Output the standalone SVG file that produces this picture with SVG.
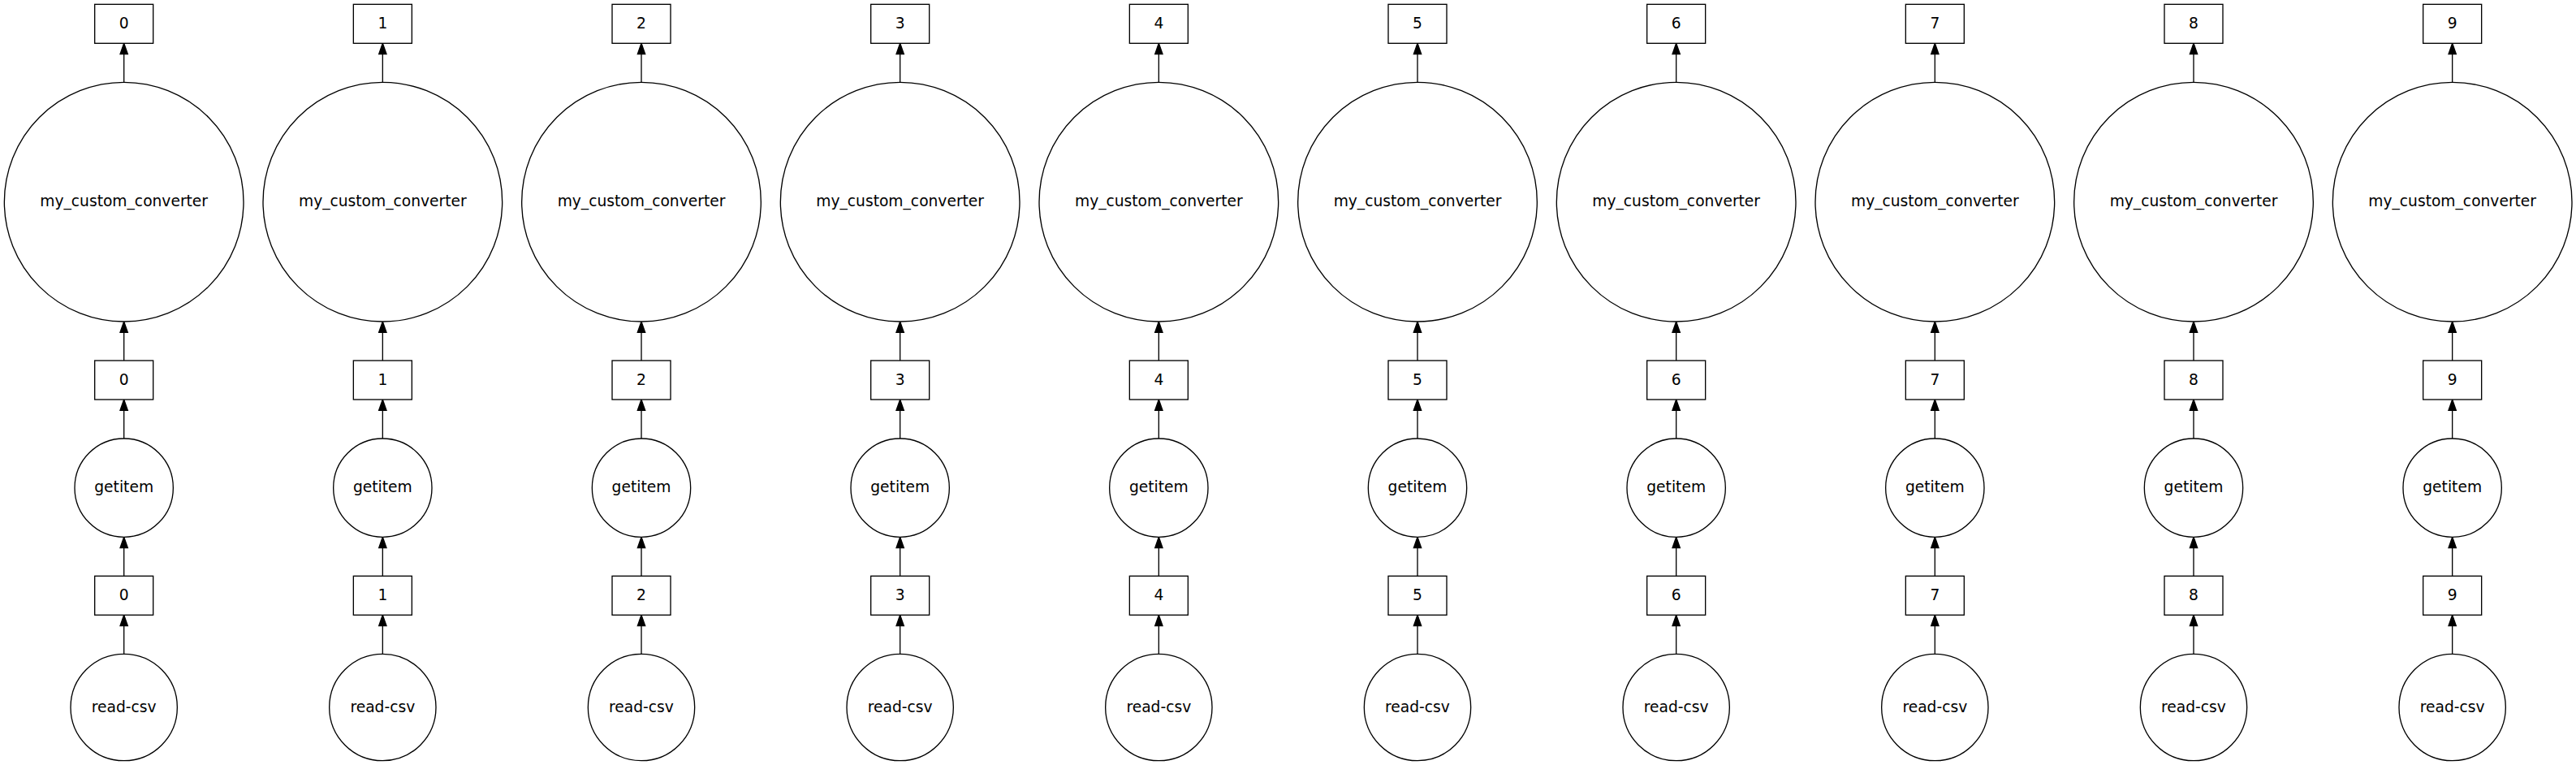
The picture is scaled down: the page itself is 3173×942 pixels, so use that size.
<svg xmlns="http://www.w3.org/2000/svg" width="3173" height="942" viewBox="0 0 3173 942">
<style>
.n{fill:#fff;stroke:#000;stroke-width:1.33}
.t{font-family:"DejaVu Sans",sans-serif;font-size:18.67px;text-anchor:middle;fill:#000}
.e{stroke:#000;stroke-width:1.33;fill:none}
</style>
<defs>
<marker id="ah" markerUnits="userSpaceOnUse" markerWidth="16" markerHeight="12" refX="0" refY="0" orient="auto" overflow="visible">
<path d="M0,-4.67 L13.33,0 L0,4.67 Z" fill="#000" stroke="#000" stroke-width="1.33"/>
</marker>
</defs>
<rect width="3173" height="942" fill="#fff"/>
<g id="connectors">
<line class="e" x1="152.67" y1="805.33" x2="152.67" y2="770.67" marker-end="url(#ah)"/>
<line class="e" x1="152.67" y1="709.33" x2="152.67" y2="674.67" marker-end="url(#ah)"/>
<line class="e" x1="152.67" y1="540" x2="152.67" y2="505.33" marker-end="url(#ah)"/>
<line class="e" x1="152.67" y1="444" x2="152.67" y2="409.33" marker-end="url(#ah)"/>
<line class="e" x1="152.67" y1="101.33" x2="152.67" y2="66.67" marker-end="url(#ah)"/>
<line class="e" x1="471.33" y1="805.33" x2="471.33" y2="770.67" marker-end="url(#ah)"/>
<line class="e" x1="471.33" y1="709.33" x2="471.33" y2="674.67" marker-end="url(#ah)"/>
<line class="e" x1="471.33" y1="540" x2="471.33" y2="505.33" marker-end="url(#ah)"/>
<line class="e" x1="471.33" y1="444" x2="471.33" y2="409.33" marker-end="url(#ah)"/>
<line class="e" x1="471.33" y1="101.33" x2="471.33" y2="66.67" marker-end="url(#ah)"/>
<line class="e" x1="790" y1="805.33" x2="790" y2="770.67" marker-end="url(#ah)"/>
<line class="e" x1="790" y1="709.33" x2="790" y2="674.67" marker-end="url(#ah)"/>
<line class="e" x1="790" y1="540" x2="790" y2="505.33" marker-end="url(#ah)"/>
<line class="e" x1="790" y1="444" x2="790" y2="409.33" marker-end="url(#ah)"/>
<line class="e" x1="790" y1="101.33" x2="790" y2="66.67" marker-end="url(#ah)"/>
<line class="e" x1="1108.67" y1="805.33" x2="1108.67" y2="770.67" marker-end="url(#ah)"/>
<line class="e" x1="1108.67" y1="709.33" x2="1108.67" y2="674.67" marker-end="url(#ah)"/>
<line class="e" x1="1108.67" y1="540" x2="1108.67" y2="505.33" marker-end="url(#ah)"/>
<line class="e" x1="1108.67" y1="444" x2="1108.67" y2="409.33" marker-end="url(#ah)"/>
<line class="e" x1="1108.67" y1="101.33" x2="1108.67" y2="66.67" marker-end="url(#ah)"/>
<line class="e" x1="1427.33" y1="805.33" x2="1427.33" y2="770.67" marker-end="url(#ah)"/>
<line class="e" x1="1427.33" y1="709.33" x2="1427.33" y2="674.67" marker-end="url(#ah)"/>
<line class="e" x1="1427.33" y1="540" x2="1427.33" y2="505.33" marker-end="url(#ah)"/>
<line class="e" x1="1427.33" y1="444" x2="1427.33" y2="409.33" marker-end="url(#ah)"/>
<line class="e" x1="1427.33" y1="101.33" x2="1427.33" y2="66.67" marker-end="url(#ah)"/>
<line class="e" x1="1746" y1="805.33" x2="1746" y2="770.67" marker-end="url(#ah)"/>
<line class="e" x1="1746" y1="709.33" x2="1746" y2="674.67" marker-end="url(#ah)"/>
<line class="e" x1="1746" y1="540" x2="1746" y2="505.33" marker-end="url(#ah)"/>
<line class="e" x1="1746" y1="444" x2="1746" y2="409.33" marker-end="url(#ah)"/>
<line class="e" x1="1746" y1="101.33" x2="1746" y2="66.67" marker-end="url(#ah)"/>
<line class="e" x1="2064.67" y1="805.33" x2="2064.67" y2="770.67" marker-end="url(#ah)"/>
<line class="e" x1="2064.67" y1="709.33" x2="2064.67" y2="674.67" marker-end="url(#ah)"/>
<line class="e" x1="2064.67" y1="540" x2="2064.67" y2="505.33" marker-end="url(#ah)"/>
<line class="e" x1="2064.67" y1="444" x2="2064.67" y2="409.33" marker-end="url(#ah)"/>
<line class="e" x1="2064.67" y1="101.33" x2="2064.67" y2="66.67" marker-end="url(#ah)"/>
<line class="e" x1="2383.33" y1="805.33" x2="2383.33" y2="770.67" marker-end="url(#ah)"/>
<line class="e" x1="2383.33" y1="709.33" x2="2383.33" y2="674.67" marker-end="url(#ah)"/>
<line class="e" x1="2383.33" y1="540" x2="2383.33" y2="505.33" marker-end="url(#ah)"/>
<line class="e" x1="2383.33" y1="444" x2="2383.33" y2="409.33" marker-end="url(#ah)"/>
<line class="e" x1="2383.33" y1="101.33" x2="2383.33" y2="66.67" marker-end="url(#ah)"/>
<line class="e" x1="2702" y1="805.33" x2="2702" y2="770.67" marker-end="url(#ah)"/>
<line class="e" x1="2702" y1="709.33" x2="2702" y2="674.67" marker-end="url(#ah)"/>
<line class="e" x1="2702" y1="540" x2="2702" y2="505.33" marker-end="url(#ah)"/>
<line class="e" x1="2702" y1="444" x2="2702" y2="409.33" marker-end="url(#ah)"/>
<line class="e" x1="2702" y1="101.33" x2="2702" y2="66.67" marker-end="url(#ah)"/>
<line class="e" x1="3020.67" y1="805.33" x2="3020.67" y2="770.67" marker-end="url(#ah)"/>
<line class="e" x1="3020.67" y1="709.33" x2="3020.67" y2="674.67" marker-end="url(#ah)"/>
<line class="e" x1="3020.67" y1="540" x2="3020.67" y2="505.33" marker-end="url(#ah)"/>
<line class="e" x1="3020.67" y1="444" x2="3020.67" y2="409.33" marker-end="url(#ah)"/>
<line class="e" x1="3020.67" y1="101.33" x2="3020.67" y2="66.67" marker-end="url(#ah)"/>
</g>
<g id="nodes">
<g id="out-0"><rect class="n" x="116.67" y="5.33" width="72" height="48"/><text class="t" x="152.67" y="34.5">0</text></g>
<g id="conv-0"><circle class="n" cx="152.67" cy="248.67" r="147.33"/><text class="t" x="152.67" y="254">my_custom_converter</text></g>
<g id="getitem-out-0"><rect class="n" x="116.67" y="444" width="72" height="48"/><text class="t" x="152.67" y="473.5">0</text></g>
<g id="getitem-0"><circle class="n" cx="152.67" cy="600.67" r="60.67"/><text class="t" x="152.67" y="606.3">getitem</text></g>
<g id="csv-out-0"><rect class="n" x="116.67" y="709.33" width="72" height="48"/><text class="t" x="152.67" y="738.8">0</text></g>
<g id="read-csv-0"><circle class="n" cx="152.67" cy="871" r="65.67"/><text class="t" x="152.67" y="876.5">read-csv</text></g>

<g id="out-1"><rect class="n" x="435.33" y="5.33" width="72" height="48"/><text class="t" x="471.33" y="34.5">1</text></g>
<g id="conv-1"><circle class="n" cx="471.33" cy="248.67" r="147.33"/><text class="t" x="471.33" y="254">my_custom_converter</text></g>
<g id="getitem-out-1"><rect class="n" x="435.33" y="444" width="72" height="48"/><text class="t" x="471.33" y="473.5">1</text></g>
<g id="getitem-1"><circle class="n" cx="471.33" cy="600.67" r="60.67"/><text class="t" x="471.33" y="606.3">getitem</text></g>
<g id="csv-out-1"><rect class="n" x="435.33" y="709.33" width="72" height="48"/><text class="t" x="471.33" y="738.8">1</text></g>
<g id="read-csv-1"><circle class="n" cx="471.33" cy="871" r="65.67"/><text class="t" x="471.33" y="876.5">read-csv</text></g>

<g id="out-2"><rect class="n" x="754" y="5.33" width="72" height="48"/><text class="t" x="790" y="34.5">2</text></g>
<g id="conv-2"><circle class="n" cx="790" cy="248.67" r="147.33"/><text class="t" x="790" y="254">my_custom_converter</text></g>
<g id="getitem-out-2"><rect class="n" x="754" y="444" width="72" height="48"/><text class="t" x="790" y="473.5">2</text></g>
<g id="getitem-2"><circle class="n" cx="790" cy="600.67" r="60.67"/><text class="t" x="790" y="606.3">getitem</text></g>
<g id="csv-out-2"><rect class="n" x="754" y="709.33" width="72" height="48"/><text class="t" x="790" y="738.8">2</text></g>
<g id="read-csv-2"><circle class="n" cx="790" cy="871" r="65.67"/><text class="t" x="790" y="876.5">read-csv</text></g>

<g id="out-3"><rect class="n" x="1072.67" y="5.33" width="72" height="48"/><text class="t" x="1108.67" y="34.5">3</text></g>
<g id="conv-3"><circle class="n" cx="1108.67" cy="248.67" r="147.33"/><text class="t" x="1108.67" y="254">my_custom_converter</text></g>
<g id="getitem-out-3"><rect class="n" x="1072.67" y="444" width="72" height="48"/><text class="t" x="1108.67" y="473.5">3</text></g>
<g id="getitem-3"><circle class="n" cx="1108.67" cy="600.67" r="60.67"/><text class="t" x="1108.67" y="606.3">getitem</text></g>
<g id="csv-out-3"><rect class="n" x="1072.67" y="709.33" width="72" height="48"/><text class="t" x="1108.67" y="738.8">3</text></g>
<g id="read-csv-3"><circle class="n" cx="1108.67" cy="871" r="65.67"/><text class="t" x="1108.67" y="876.5">read-csv</text></g>

<g id="out-4"><rect class="n" x="1391.33" y="5.33" width="72" height="48"/><text class="t" x="1427.33" y="34.5">4</text></g>
<g id="conv-4"><circle class="n" cx="1427.33" cy="248.67" r="147.33"/><text class="t" x="1427.33" y="254">my_custom_converter</text></g>
<g id="getitem-out-4"><rect class="n" x="1391.33" y="444" width="72" height="48"/><text class="t" x="1427.33" y="473.5">4</text></g>
<g id="getitem-4"><circle class="n" cx="1427.33" cy="600.67" r="60.67"/><text class="t" x="1427.33" y="606.3">getitem</text></g>
<g id="csv-out-4"><rect class="n" x="1391.33" y="709.33" width="72" height="48"/><text class="t" x="1427.33" y="738.8">4</text></g>
<g id="read-csv-4"><circle class="n" cx="1427.33" cy="871" r="65.67"/><text class="t" x="1427.33" y="876.5">read-csv</text></g>

<g id="out-5"><rect class="n" x="1710" y="5.33" width="72" height="48"/><text class="t" x="1746" y="34.5">5</text></g>
<g id="conv-5"><circle class="n" cx="1746" cy="248.67" r="147.33"/><text class="t" x="1746" y="254">my_custom_converter</text></g>
<g id="getitem-out-5"><rect class="n" x="1710" y="444" width="72" height="48"/><text class="t" x="1746" y="473.5">5</text></g>
<g id="getitem-5"><circle class="n" cx="1746" cy="600.67" r="60.67"/><text class="t" x="1746" y="606.3">getitem</text></g>
<g id="csv-out-5"><rect class="n" x="1710" y="709.33" width="72" height="48"/><text class="t" x="1746" y="738.8">5</text></g>
<g id="read-csv-5"><circle class="n" cx="1746" cy="871" r="65.67"/><text class="t" x="1746" y="876.5">read-csv</text></g>

<g id="out-6"><rect class="n" x="2028.67" y="5.33" width="72" height="48"/><text class="t" x="2064.67" y="34.5">6</text></g>
<g id="conv-6"><circle class="n" cx="2064.67" cy="248.67" r="147.33"/><text class="t" x="2064.67" y="254">my_custom_converter</text></g>
<g id="getitem-out-6"><rect class="n" x="2028.67" y="444" width="72" height="48"/><text class="t" x="2064.67" y="473.5">6</text></g>
<g id="getitem-6"><circle class="n" cx="2064.67" cy="600.67" r="60.67"/><text class="t" x="2064.67" y="606.3">getitem</text></g>
<g id="csv-out-6"><rect class="n" x="2028.67" y="709.33" width="72" height="48"/><text class="t" x="2064.67" y="738.8">6</text></g>
<g id="read-csv-6"><circle class="n" cx="2064.67" cy="871" r="65.67"/><text class="t" x="2064.67" y="876.5">read-csv</text></g>

<g id="out-7"><rect class="n" x="2347.33" y="5.33" width="72" height="48"/><text class="t" x="2383.33" y="34.5">7</text></g>
<g id="conv-7"><circle class="n" cx="2383.33" cy="248.67" r="147.33"/><text class="t" x="2383.33" y="254">my_custom_converter</text></g>
<g id="getitem-out-7"><rect class="n" x="2347.33" y="444" width="72" height="48"/><text class="t" x="2383.33" y="473.5">7</text></g>
<g id="getitem-7"><circle class="n" cx="2383.33" cy="600.67" r="60.67"/><text class="t" x="2383.33" y="606.3">getitem</text></g>
<g id="csv-out-7"><rect class="n" x="2347.33" y="709.33" width="72" height="48"/><text class="t" x="2383.33" y="738.8">7</text></g>
<g id="read-csv-7"><circle class="n" cx="2383.33" cy="871" r="65.67"/><text class="t" x="2383.33" y="876.5">read-csv</text></g>

<g id="out-8"><rect class="n" x="2666" y="5.33" width="72" height="48"/><text class="t" x="2702" y="34.5">8</text></g>
<g id="conv-8"><circle class="n" cx="2702" cy="248.67" r="147.33"/><text class="t" x="2702" y="254">my_custom_converter</text></g>
<g id="getitem-out-8"><rect class="n" x="2666" y="444" width="72" height="48"/><text class="t" x="2702" y="473.5">8</text></g>
<g id="getitem-8"><circle class="n" cx="2702" cy="600.67" r="60.67"/><text class="t" x="2702" y="606.3">getitem</text></g>
<g id="csv-out-8"><rect class="n" x="2666" y="709.33" width="72" height="48"/><text class="t" x="2702" y="738.8">8</text></g>
<g id="read-csv-8"><circle class="n" cx="2702" cy="871" r="65.67"/><text class="t" x="2702" y="876.5">read-csv</text></g>

<g id="out-9"><rect class="n" x="2984.67" y="5.33" width="72" height="48"/><text class="t" x="3020.67" y="34.5">9</text></g>
<g id="conv-9"><circle class="n" cx="3020.67" cy="248.67" r="147.33"/><text class="t" x="3020.67" y="254">my_custom_converter</text></g>
<g id="getitem-out-9"><rect class="n" x="2984.67" y="444" width="72" height="48"/><text class="t" x="3020.67" y="473.5">9</text></g>
<g id="getitem-9"><circle class="n" cx="3020.67" cy="600.67" r="60.67"/><text class="t" x="3020.67" y="606.3">getitem</text></g>
<g id="csv-out-9"><rect class="n" x="2984.67" y="709.33" width="72" height="48"/><text class="t" x="3020.67" y="738.8">9</text></g>
<g id="read-csv-9"><circle class="n" cx="3020.67" cy="871" r="65.67"/><text class="t" x="3020.67" y="876.5">read-csv</text></g>
</g>
</svg>
